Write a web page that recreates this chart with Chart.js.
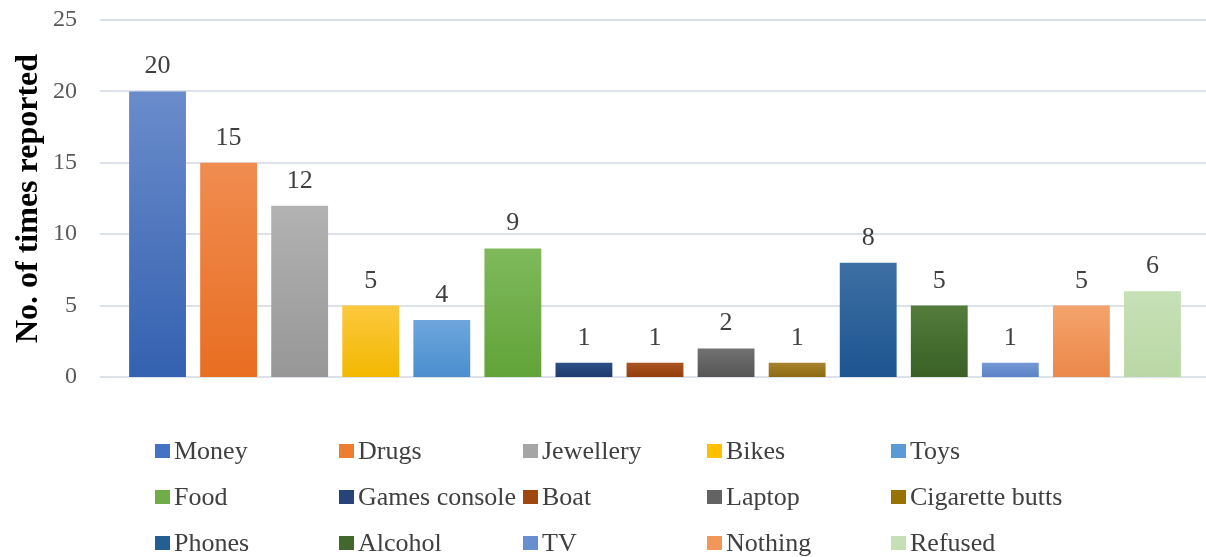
<!DOCTYPE html>
<html>
<head>
<meta charset="utf-8">
<script src="https://cdn.jsdelivr.net/npm/chart.js@4/dist/chart.umd.min.js"></script>
<style>
  body { margin: 0; background: #fff; }
  #wrap { position: relative; width: 1206px; height: 557px; }
  #items-chart { position: absolute; left: 0; top: 0; }
  #legend {
    position: absolute; left: 155px; top: 428px;
    display: grid; grid-template-columns: repeat(5, 184px); grid-auto-rows: 46px;
    font-family: "Liberation Serif", "Times New Roman", serif; font-size: 26px; color: #404040;
  }
  #legend .item { display: flex; align-items: center; white-space: nowrap; }
  #legend .box { width: 15px; height: 14px; margin-right: 4px; flex: none; }
</style>
</head>
<body>
<div id="wrap">
  <canvas id="items-chart" width="1206" height="557"></canvas>
  <div id="legend"></div>
</div>
<script>
// Items reported
var categories = ["Money", "Drugs", "Jewellery", "Bikes", "Toys", "Food", "Games console", "Boat",
    "Laptop", "Cigarette butts", "Phones", "Alcohol", "TV", "Nothing", "Refused"];
var timesReported = [20, 15, 12, 5, 4, 9, 1, 1, 2, 1, 8, 5, 1, 5, 6];
var yTicks = [0, 5, 10, 15, 20, 25];

// colours (top of bar lighter, bottom darker)
var topColors = ["#6a8ccb", "#f08c50", "#b2b2b2", "#fcc83e", "#6ea6dc", "#7fb95c", "#2e5088", "#aa5424",
    "#727272", "#a8842f", "#3d6fa3", "#537c3c", "#7599d6", "#f4a36c", "#c6e1b6"];
var bottomColors = ["#3461b0", "#e86e22", "#979797", "#f2b800", "#4a8ecf", "#62a338", "#1e3a6d", "#943f0a",
    "#555555", "#8d6a10", "#1d5590", "#3a6026", "#5b82c6", "#ec884a", "#bad8a5"];
var legendColors = ["#4472c4", "#ed7d31", "#a5a5a5", "#ffc000", "#5b9bd5", "#70ad47", "#264478", "#9e480e",
    "#636363", "#997300", "#255e91", "#43682b", "#698ed0", "#f1975a", "#c5e0b4"];

var serif = "'Liberation Serif', 'Times New Roman', serif";

// gridlines run past the plot on both sides, like the original
var gridPlugin = {
    id: 'wideGrid',
    beforeDatasetsDraw: function (chart) {
        var c = chart.ctx, y = chart.scales.y;
        c.save();
        c.strokeStyle = "#dde1e9";
        c.lineWidth = 2;
        yTicks.forEach(function (t) {
            var py = Math.round(y.getPixelForValue(t));
            c.beginPath();
            c.moveTo(100, py);
            c.lineTo(chart.width, py);
            c.stroke();
        });
        c.restore();
    }
};

// value labels above bars
var labelPlugin = {
    id: 'barLabels',
    afterDatasetsDraw: function (chart) {
        var c = chart.ctx;
        var meta = chart.getDatasetMeta(0);
        c.save();
        c.font = "26px " + serif;
        c.fillStyle = "#404040";
        c.textAlign = "center";
        c.textBaseline = "alphabetic";
        meta.data.forEach(function (bar, i) {
            c.fillText(timesReported[i], bar.x, bar.y - 18);
        });
        c.restore();
    }
};

var ctx = document.getElementById('items-chart').getContext('2d');
var myChart = new Chart(ctx, {
    type: 'bar',
    data: {
        labels: categories,
        datasets: [{
            label: 'No. of times reported',
            data: timesReported,
            backgroundColor: function (context) {
                var i = context.dataIndex;
                var y = context.chart.scales.y;
                if (context.type !== 'data' || !y) return topColors[i];
                var y0 = y.getPixelForValue(context.raw), y1 = y.getPixelForValue(0);
                if (!isFinite(y0) || !isFinite(y1) || y0 === y1) return topColors[i];
                var g = context.chart.ctx.createLinearGradient(0, y0, 0, y1);
                g.addColorStop(0, topColors[i]);
                g.addColorStop(1, bottomColors[i]);
                return g;
            },
            categoryPercentage: 1,
            barPercentage: 0.8
        }]
    },
    options: {
        responsive: false,
        animation: false,
        devicePixelRatio: 1,
        layout: { padding: { top: 20, right: 18, bottom: 180, left: 0 } },
        plugins: {
            legend: { display: false },
            tooltip: { enabled: false }
        },
        scales: {
            x: {
                display: false
            },
            y: {
                min: 0,
                max: 25,
                afterBuildTicks: function (axis) {
                    axis.ticks = yTicks.map(function (v) { return { value: v }; });
                },
                afterFit: function (axis) {
                    axis.width = 122;
                    axis.paddingTop = 0;
                    axis.paddingBottom = 0;
                },
                grid: { display: false },
                border: { display: false },
                ticks: {
                    padding: 37,
                    color: "#595959",
                    font: { family: serif, size: 24 }
                },
                title: {
                    display: true,
                    text: 'No. of times reported',
                    color: "#000",
                    padding: { top: 10, bottom: 0 },
                    font: { family: serif, size: 32, weight: 'bold' }
                }
            }
        }
    },
    plugins: [gridPlugin, labelPlugin]
});

// legend laid out in a 5-column grid
var legendEl = document.getElementById('legend');
categories.forEach(function (name, i) {
    var item = document.createElement('div');
    item.className = 'item';
    var box = document.createElement('span');
    box.className = 'box';
    box.style.background = legendColors[i];
    item.appendChild(box);
    item.appendChild(document.createTextNode(name));
    legendEl.appendChild(item);
});
</script>
</body>
</html>
